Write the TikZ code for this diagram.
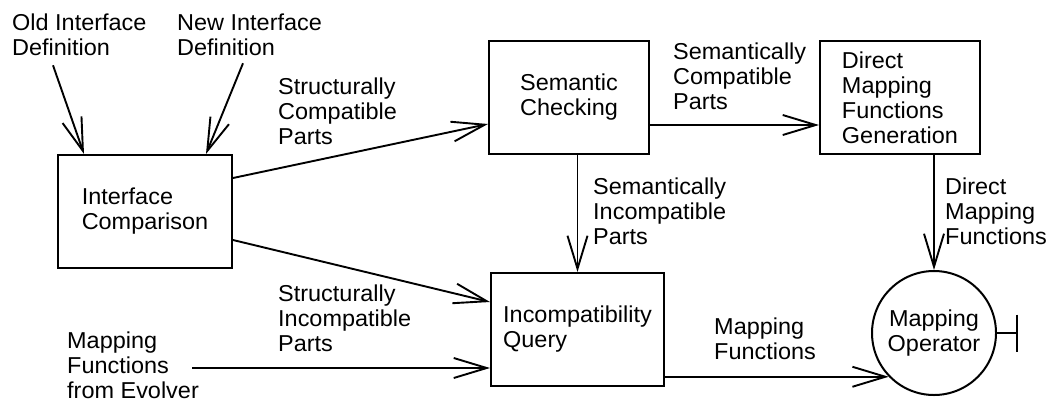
\documentclass[tikz,border=0pt]{standalone}
\usepackage{fontspec}
\setmainfont{Liberation Sans}[FakeStretch=1.02]
\usetikzlibrary{arrows.meta}
\begin{document}
\begin{tikzpicture}[x=1pt, y=-1pt,
  font=\fontsize{23}{25}\selectfont,
  box/.style={draw, line width=2pt, align=left, minimum width=#1, minimum height=113pt, inner sep=0pt},
  lbl/.style={anchor=north west, align=left, inner sep=0pt},
  flow/.style={line width=1.9pt, -{Straight Barb[length=33pt, width=20pt, line width=1.9pt]}}]
\useasboundingbox (0,0) rectangle (1049,405);
\node[box=174pt] (cmp) at (145,211.5) {Interface\\Comparison};
\node[box=160pt] (sem) at (569,97) {Semantic\\Checking};
\node[box=160pt] (dir) at (900,97.5) {Direct\\Mapping\\Functions\\Generation};
\node[box=173pt] (inc) at (577.5,329.5) {Incompatibility\\Query};
\node[draw, circle, line width=2pt, minimum size=124pt, inner sep=0pt, align=center] (op) at (934,333) {Mapping\\Operator};
\node[lbl] (old) at (12,14) {Old Interface\\Definition};
\node[lbl] (new) at (177,14) {New Interface\\Definition};
\node[lbl] (scp) at (278,78) {Structurally\\Compatible\\Parts};
\node[lbl] (sip) at (278,285) {Structurally\\Incompatible\\Parts};
\node[lbl] (evl) at (67,332) {Mapping\\Functions\\from Evolver};
\node[lbl] (scl) at (673,43) {Semantically\\Compatible\\Parts};
\node[lbl] (sil) at (593,178) {Semantically\\Incompatible\\Parts};
\node[lbl] (dml) at (945,178) {Direct\\Mapping\\Functions};
\node[lbl] (mfl) at (714,318) {Mapping\\Functions};
\coordinate (evo) at (192,368);
\coordinate (stop) at (1018,333);
\draw[flow] ([shift={(41pt,-9pt)}]old.south west) -- ([xshift=27pt]cmp.north west);
\draw[flow] ([shift={(66pt,-7pt)}]new.south west) -- ([xshift=-27pt]cmp.north east);
\draw[flow] ([yshift=33.5pt]cmp.east) -- ([yshift=-27pt]sem.west);
\draw[flow] ([yshift=-28.5pt]cmp.east) -- ([yshift=27.5pt]inc.west);
\draw[flow] (evo) -- (evo -| inc.west);
\draw[flow] ([yshift=-28pt]sem.east) -- ([yshift=-28pt]sem.east -| dir.west);
\draw[flow] (inc.north |- sem.south) -- (inc.north);
\draw[flow] (op.north |- dir.south) -- (op.north);
\draw[flow] (op.224 -| inc.east) -- (op.224);
\draw[line width=1.9pt, -{Bar[width=37pt, line width=1.9pt]}] (op.east) -- (stop);
\end{tikzpicture}
\end{document}
